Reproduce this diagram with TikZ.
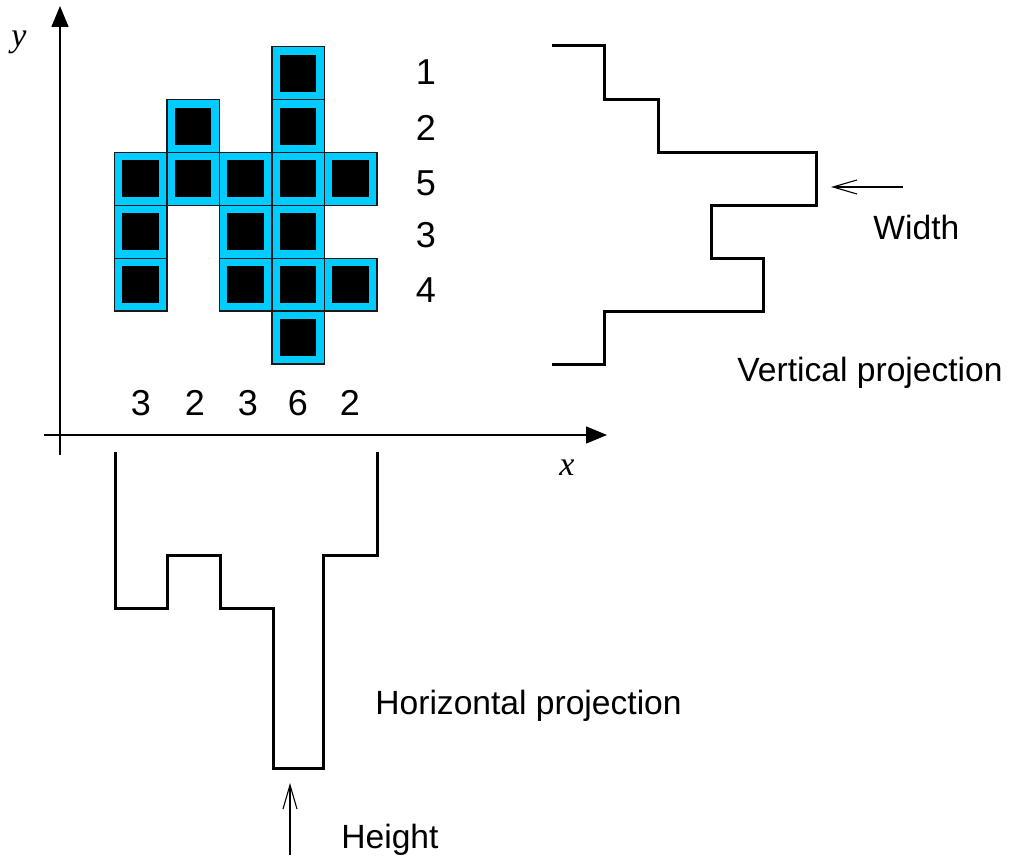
\documentclass[tikz,border=0pt]{standalone}
\usepackage{fontspec}
\setmainfont{Liberation Sans}
\newfontfamily\axisserif{Liberation Serif}
\usetikzlibrary{arrows.meta}
\definecolor{cellcyan}{HTML}{00CCFF}
\begin{document}
\begin{tikzpicture}[x=0.5pt,y=-0.5pt,
  axis/.style={line width=0.75pt,-{Triangle[length=10.5pt,width=8.5pt]}},
  profile/.style={line width=1.5pt,line join=miter},
  pointer/.style={line width=0.55pt,-{Straight Barb[length=12pt,width=7pt]}},
  count/.style={font=\fontsize{18}{20}\selectfont,inner sep=0pt,anchor=base},
  caption/.style={font=\fontsize{16.8}{19}\selectfont,inner sep=0pt,anchor=base west},
  axlabel/.style={font=\axisserif\itshape\fontsize{17}{19}\selectfont,inner sep=0pt},
  cell/.style={fill=cellcyan,draw=black!90,line width=0.75pt},
  core/.style={fill=black}]
\useasboundingbox (0,0) rectangle (1023,860);

% coordinate axes
\coordinate (ybot) at (60,455);
\coordinate (ytop) at (60,6);
\coordinate (xleft) at (44,435);
\coordinate (xright) at (607,435);
\draw[axis] (ybot) -- (ytop);
\draw[axis] (xleft) -- (xright);
\node[axlabel] (ylab) at (19,42) {y};
\node[axlabel] (xlab) at (567,468) {x};

% the object: filled grid cells
\begin{scope}[shift={(114.3,46.7)},x=26.25pt,y=-26.45pt]
  \foreach \c/\r in {4/1, 2/2,4/2, 1/3,2/3,3/3,4/3,5/3, 1/4,3/4,4/4, 1/5,3/5,4/5,5/5, 4/6} {
    \draw[cell] (\c-1,\r-1) rectangle (\c,\r);
    \fill[core] (\c-0.85,\r-0.85) rectangle (\c-0.15,\r-0.15);
  }
\end{scope}

% column counts
\node[count] (c1) at (141,416) {3};
\node[count] (c2) at (195,416) {2};
\node[count] (c3) at (248,416) {3};
\node[count] (c4) at (298,416) {6};
\node[count] (c5) at (350,416) {2};

% row counts
\node[count] (r1) at (426,85) {1};
\node[count] (r2) at (426,141) {2};
\node[count] (r3) at (426,196) {5};
\node[count] (r4) at (426,248) {3};
\node[count] (r5) at (426,303) {4};

% vertical projection profile
\draw[profile] (552,46) -| (604,100) -| (658,153) -| (816,206) -| (711,259)
  -| (763,312) -| (604,365) -- (552,365);

% horizontal projection profile
\draw[profile] (115,452) |- (167,609) |- (220,556) |- (273,609) |- (323,768)
  |- (377,556) -- (377,452);

% width and height markers
\coordinate (wtail) at (903,187);
\coordinate (wtip) at (831,187);
\draw[pointer] (wtail) -- (wtip);
\coordinate (htail) at (290,855);
\coordinate (htip) at (290,783);
\draw[pointer] (htail) -- (htip);

% captions
\node[caption] (wlab) at (873,240) {Width};
\node[caption] (vlab) at (737,382) {Vertical projection};
\node[caption] (hlab) at (375,714) {Horizontal projection};
\node[caption] (htlab) at (341,848) {Height};
\end{tikzpicture}
\end{document}
